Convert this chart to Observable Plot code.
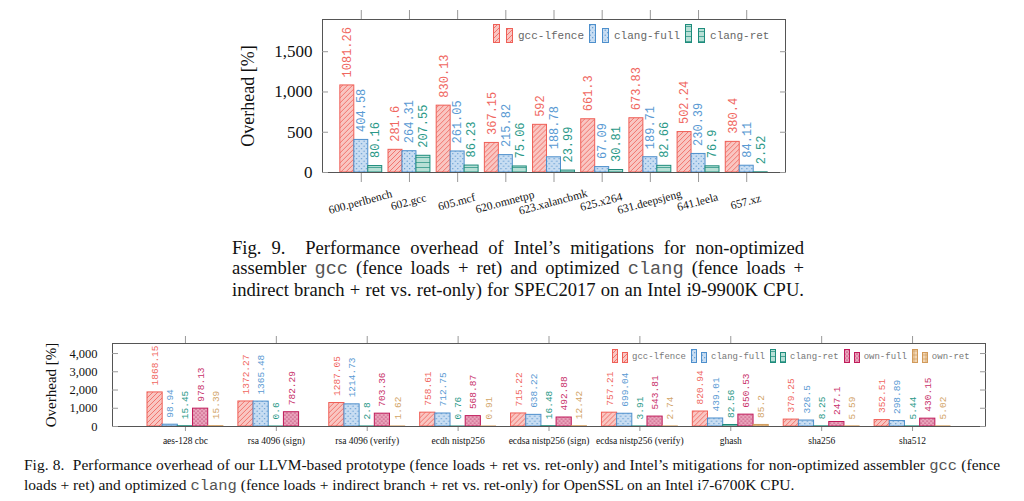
<!DOCTYPE html>
<html><head><meta charset="utf-8">
<script src="https://cdn.jsdelivr.net/npm/d3@7"></script>
<script src="https://cdn.jsdelivr.net/npm/@observablehq/plot@0.6"></script>
<style>
body{margin:0;background:#fff;width:1024px;height:501px;position:relative;overflow:hidden;font-family:"Liberation Serif",serif;color:#111}
.abs{position:absolute;left:0}
.legend{position:absolute;display:flex;align-items:center;font-family:"Liberation Mono",monospace;white-space:nowrap}
.legend .item{display:flex;align-items:center}
.legend svg{display:block;overflow:visible}
.cap{position:absolute;white-space:nowrap;font-family:"Liberation Serif",serif;color:#111}
.cap .ln{display:inline-block;white-space:nowrap}
.cap .tt{font-family:"Liberation Mono",monospace;color:#555}
</style></head><body>
<svg width="0" height="0" style="position:absolute;left:0;top:0">
<defs>
<pattern id="pRed" patternUnits="userSpaceOnUse" width="5" height="5">
<rect width="5" height="5" fill="#f9c6c2"/>
<path d="M-1,1L1,-1M0,5L5,0M4,6L6,4" stroke="#ef5f57" stroke-width="0.8"/>
</pattern>
<pattern id="pBlue" patternUnits="userSpaceOnUse" width="5" height="5">
<rect width="5" height="5" fill="#c8ddf2"/>
<circle cx="1.2" cy="1.2" r="0.6" fill="#4d8fcc"/>
<circle cx="3.7" cy="3.7" r="0.6" fill="#4d8fcc"/>
</pattern>
<pattern id="pGreen" patternUnits="userSpaceOnUse" width="5" height="5">
<rect width="5" height="5" fill="#b8e0d6"/>
<path d="M0,2.5H5" stroke="#1e8c7c" stroke-width="0.7"/>
</pattern>
<pattern id="pPink" patternUnits="userSpaceOnUse" width="4" height="4">
<rect width="4" height="4" fill="#e9a3bb"/>
<circle cx="1" cy="1" r="0.6" fill="#a8104a"/>
<circle cx="3" cy="3" r="0.6" fill="#a8104a"/>
</pattern>
<pattern id="pOrange" patternUnits="userSpaceOnUse" width="4" height="4">
<rect width="4" height="4" fill="#f2d6b4"/>
<path d="M0,2H4M2,0V4" stroke="#c8924e" stroke-width="0.6"/>
</pattern>
</defs>
</svg>

<div id="topChart" class="abs" style="top:0px"></div>
<div id="topOverlay" class="abs" style="top:0px"></div>
<div id="topLegend" class="legend" style="left:493px;top:24px;font-size:11px;color:#666"></div>

<div id="cap9" class="cap" style="left:232px;top:237.5px;font-size:16.5px;line-height:20.5px">
<div><span class="ln">Fig. 9.&nbsp;&nbsp;Performance overhead of Intel’s mitigations for non-optimized</span></div>
<div><span class="ln">assembler <span class="tt">gcc</span> (fence loads + ret) and optimized <span class="tt">clang</span> (fence loads +</span></div>
<div><span class="ln">indirect branch + ret vs. ret-only) for SPEC2017 on an Intel i9-9900K CPU.</span></div>
</div>

<div id="botChart" class="abs" style="top:300px"></div>
<div id="botOverlay" class="abs" style="top:300px"></div>
<div id="botLegend" class="legend" style="left:612px;top:349px;font-size:9px;color:#777"></div>

<div id="cap8" class="cap" style="left:24px;top:456px;font-size:14px;line-height:20px;transform-origin:0 0">
<div><span class="ln">Fig. 8.&nbsp;&nbsp;Performance overhead of our LLVM-based prototype (fence loads + ret vs. ret-only) and Intel’s mitigations for non-optimized assembler <span class="tt">gcc</span> (fence</span></div>
<div><span class="ln">loads + ret) and optimized <span class="tt">clang</span> (fence loads + indirect branch + ret vs. ret-only) for OpenSSL on an Intel i7-6700K CPU.</span></div>
</div>

<script>
// ---------- data: Fig. 9 (SPEC2017) ----------
const specCategories = ["600.perlbench","602.gcc","605.mcf","620.omnetpp","623.xalancbmk","625.x264","631.deepsjeng","641.leela","657.xz"];
const specSeries = ["gcc-lfence","clang-full","clang-ret"];
const specGccLfence = [1081.26,281.6,830.13,367.15,592,661.3,673.83,502.24,380.4];
const specClangFull = [404.58,264.31,261.05,215.82,188.78,67.09,189.71,230.39,84.11];
const specClangRet  = [80.16,207.55,86.23,75.06,23.99,30.81,82.66,76.9,2.52];
const specTicks = [0,500,1000,1500];

// ---------- data: Fig. 8 (OpenSSL) ----------
const sslCategories = ["aes-128 cbc","rsa 4096 (sign)","rsa 4096 (verify)","ecdh nistp256","ecdsa nistp256 (sign)","ecdsa nistp256 (verify)","ghash","sha256","sha512"];
const sslSeries = ["gcc-lfence","clang-full","clang-ret","own-full","own-ret"];
const sslGccLfence = [1868.15,1372.27,1287.05,758.61,715.22,757.21,820.94,379.25,352.51];
const sslClangFull = [98.94,1365.48,1214.73,712.75,638.22,699.04,439.01,326.5,298.89];
const sslClangRet  = [15.45,0.6,2.8,0.76,16.48,3.91,82.56,8.25,5.44];
const sslOwnFull   = [978.13,782.29,703.36,568.87,492.88,543.81,650.53,247.1,430.15];
const sslOwnRet    = [15.39,null,1.62,0.91,12.42,2.74,85.2,5.59,5.02];
const sslTicks = [0,1000,2000,3000,4000];

const yLabel = "Overhead [%]";

const SERIF = "Liberation Serif, serif";
const MONO = "Liberation Mono, monospace";

const seriesStyle = {
  "gcc-lfence": {fill:"url(#pRed)",    stroke:"#ef5f57", text:"#f0675f"},
  "clang-full": {fill:"url(#pBlue)",   stroke:"#4d8fcc", text:"#5a9ad3"},
  "clang-ret":  {fill:"url(#pGreen)",  stroke:"#1e8c7c", text:"#2a9988"},
  "own-full":   {fill:"url(#pPink)",   stroke:"#c01a5a", text:"#c8306a"},
  "own-ret":    {fill:"url(#pOrange)", stroke:"#d19a5a", text:"#d2a468"}
};

function drawChart(c) {
  const rows = c.categories.flatMap((cat, i) =>
    c.series.map((s, j) => ({cat, series: s, value: c.values[j][i]}))
  ).filter(d => d.value != null);
  const common = {
    width: 1024, height: c.height,
    marginLeft: c.mL, marginRight: c.mR, marginTop: c.mT, marginBottom: c.mB,
    style: {background: "transparent", overflow: "visible", fontFamily: SERIF}
  };
  const marks = [
    Plot.barY(rows, {fx: "cat", x: "series", y: "value",
      fill: d => seriesStyle[d.series].fill, stroke: d => seriesStyle[d.series].stroke, strokeWidth: 1}),
    Plot.text(rows, {fx: "cat", x: "series", y: "value", text: d => String(d.value),
      rotate: -90, textAnchor: "start", dy: -c.labelGap,
      fill: d => seriesStyle[d.series].text, fontFamily: MONO, fontSize: c.labelSize}),
    Plot.axisFx({anchor: "bottom", tickSize: c.tickBottom, tickFormat: () => "", color: "#999", label: null}),
    Plot.axisFx({anchor: "top", tickSize: c.tickTop, tickFormat: () => "", color: "#999", label: null})
  ];
  if (c.rotatedLabels) {
    marks.push(Plot.text(c.categories, {fx: d => d, text: d => d, frameAnchor: "bottom",
      textAnchor: "middle", dy: c.catDy, rotate: c.catRotate, fontSize: c.catFont, fontFamily: SERIF, fill: "#111"}));
  } else {
    marks.push(Plot.axisFx({anchor: "bottom", tickSize: 0, tickPadding: c.catPad,
      fontSize: c.catFont, fontFamily: SERIF, color: "#111", label: null}));
  }
  const main = Plot.plot({...common,
    fx: {domain: c.categories, paddingInner: c.pi, paddingOuter: c.po, axis: null, round: false},
    x: {domain: c.series, padding: 0, axis: null, round: false},
    y: {domain: [0, c.yMax], axis: null},
    color: {type: "identity"},
    marks
  });
  const overlay = Plot.plot({...common,
    y: {domain: [0, c.yMax], axis: null},
    marks: [
      Plot.frame({stroke: "#555"}),
      Plot.axisY({anchor: "left", ticks: c.ticks, tickSize: -6, tickFormat: () => "", color: "#999", label: null}),
      Plot.axisY({anchor: "right", ticks: c.ticks, tickSize: -6, tickFormat: () => "", color: "#999", label: null}),
      Plot.axisY({anchor: "left", ticks: c.ticks, tickSize: 0, tickPadding: c.yPad,
        tickFormat: d3.format(","), fontSize: c.yFont, fontFamily: SERIF, color: "#111", label: null}),
      Plot.text([yLabel], {text: d => d, frameAnchor: "left", textAnchor: "middle", dx: c.yLabelDx, rotate: -90,
        fontSize: c.yLabelFont, fontFamily: SERIF, fill: "#111"})
    ]
  });
  document.getElementById(c.mainId).append(main);
  document.getElementById(c.overlayId).append(overlay);
}

drawChart({
  mainId: "topChart", overlayId: "topOverlay",
  categories: specCategories, series: specSeries,
  values: [specGccLfence, specClangFull, specClangRet],
  height: 230, mL: 322, mR: 239, mT: 19, mB: 58,
  pi: 0.13, po: 0.37, yMax: 1900, ticks: specTicks,
  labelGap: 8, labelSize: 12, tickBottom: 10, tickTop: 10,
  rotatedLabels: true, catDy: 33, catRotate: -15, catFont: 11.5,
  yPad: 10, yFont: 17, yLabelDx: -74, yLabelFont: 18
});

drawChart({
  mainId: "botChart", overlayId: "botOverlay",
  categories: sslCategories, series: sslSeries,
  values: [sslGccLfence, sslClangFull, sslClangRet, sslOwnFull, sslOwnRet],
  height: 160, mL: 112, mR: 39, mT: 43, mB: 34,
  pi: 0.165, po: 0.385, yMax: 4550, ticks: sslTicks,
  labelGap: 7, labelSize: 9.5, tickBottom: 5, tickTop: 8,
  rotatedLabels: false, catPad: 11, catFont: 9.5,
  yPad: 15, yFont: 12.5, yLabelDx: -61, yLabelFont: 15
});

function buildLegend(id, series, o) {
  const box = document.getElementById(id);
  for (const s of series) {
    const st = seriesStyle[s];
    const item = document.createElement("span");
    item.className = "item";
    item.innerHTML =
      `<svg width="${o.sw}" height="${o.sh}" style="margin-right:${o.gap1}px">` +
      `<rect x="0.5" y="0.5" width="${o.rw}" height="${o.sh - 1}" fill="${st.fill}" stroke="${st.stroke}"/>` +
      `<rect x="${o.sw - o.rw - 0.5}" y="${o.dh + 0.5}" width="${o.rw}" height="${o.sh - 1 - o.dh}" fill="${st.fill}" stroke="${st.stroke}"/>` +
      `</svg><span style="position:relative;top:${o.tdy}px;margin-right:${o.gap2}px">${s}</span>`;
    box.append(item);
  }
}
buildLegend("topLegend", specSeries, {sw: 20, sh: 19, rw: 6, dh: 4, gap1: 5, gap2: 5, tdy: 2});
buildLegend("botLegend", sslSeries, {sw: 16, sh: 14, rw: 5, dh: 3, gap1: 4, gap2: 5, tdy: 1});

// caption fitting (justification by word spacing)
function spaces(el) { return (el.textContent.match(/[ \u00a0]/g) || []).length; }
function justify(el, target) {
  el.style.wordSpacing = "";
  const w = el.getBoundingClientRect().width;
  const n = spaces(el);
  if (w < target && n) el.style.wordSpacing = ((target - w) / n) + "px";
  else if (w > target) { el.style.transformOrigin = "0 0"; el.style.transform = `scaleX(${target / w})`; }
}
// Fig. 9: choose font size so the widest line nearly fills the column, then justify
const cap9 = document.getElementById("cap9");
const c9 = [...cap9.querySelectorAll(".ln")];
const base9 = parseFloat(getComputedStyle(cap9).fontSize);
const max9 = Math.max(...c9.map(l => l.getBoundingClientRect().width));
cap9.style.fontSize = (base9 * 566 / max9) + "px";
c9.forEach(el => justify(el, 572));
// Fig. 8: horizontally condensed; first line spans the full page width, second runs naturally
const c8box = document.getElementById("cap8");
const c8 = c8box.querySelectorAll(".ln");
const w1 = c8[0].getBoundingClientRect().width;
const s8 = 968 / w1;
justify(c8[0], 976 / s8);
c8box.style.transform = `scaleX(${s8})`;
</script>
</body></html>
